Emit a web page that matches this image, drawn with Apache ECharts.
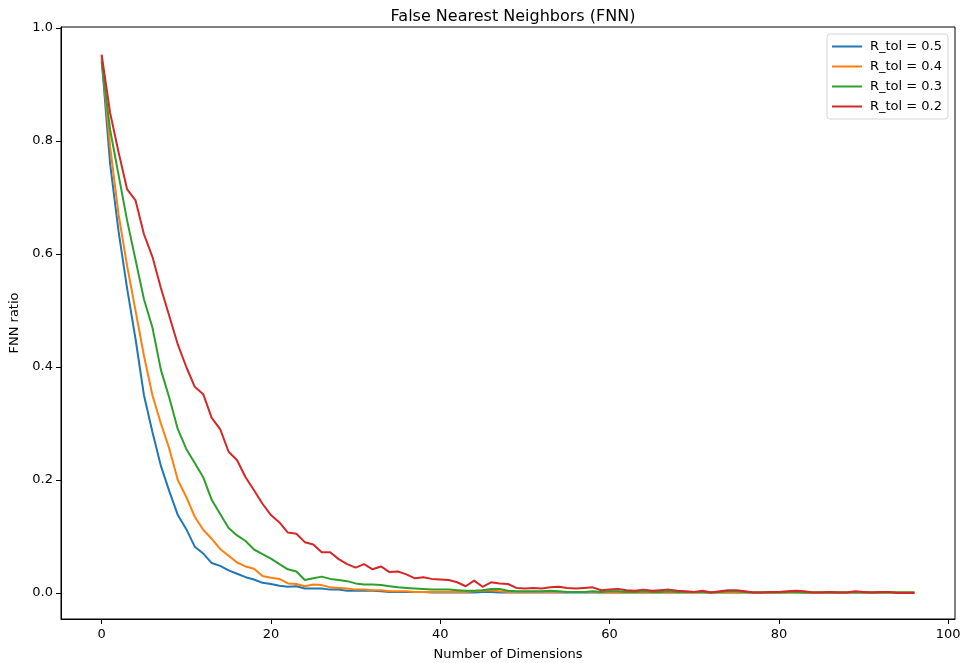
<!DOCTYPE html>
<html>
<head>
<meta charset="utf-8">
<script src="https://cdn.jsdelivr.net/npm/echarts@6/dist/echarts.min.js"></script>
<style>html,body{margin:0;padding:0;background:#fff;}#c{width:960px;height:663px;}</style>
</head>
<body>
<div id="c"></div>
<script>
const dims = Array.from({length: 97}, (_, i) => i);
const xTicks = [0, 20, 40, 60, 80, 100];
const yTicks = [0, 0.2, 0.4, 0.6, 0.8, 1.0];
const seriesNames = ['R_tol = 0.5', 'R_tol = 0.4', 'R_tol = 0.3', 'R_tol = 0.2'];

const tol05 = [0.945,0.76,0.64,0.54,0.45,0.35,0.285,0.225,0.18,0.138,
  0.113,0.082,0.07,0.053,0.048,0.04,0.034,0.028,0.024,0.018,
  0.016,0.013,0.011,0.012,0.008,0.008,0.008,0.006,0.006,0.004,
  0.004,0.004,0.004,0.003,0.002,0.002,0.002,0.002,0.002,0.001,
  0.001,0.001,0.001,0.001,0.001,0.002,0.002,0.001,0.001,0.001,
  0.001,0.001,0.001,0.001,0.001,0.001,0.001,0.001,0.001,0.001,
  0.001,0.001,0.001,0.001,0.001,0.001,0.001,0.001,0.001,0.001,
  0.001,0.001,0.001,0.001,0.001,0.001,0.001,0.001,0.001,0.001,
  0.001,0.001,0.001,0.001,0.001,0.001,0.001,0.001,0.001,0.001,
  0.001,0.001,0.001,0.001,0.001,0.001,0.001];
const tol04 = [0.95,0.79,0.67,0.58,0.5,0.42,0.35,0.30,0.255,0.2,
  0.17,0.135,0.112,0.096,0.078,0.066,0.054,0.047,0.043,0.03,
  0.027,0.025,0.017,0.016,0.012,0.015,0.014,0.01,0.009,0.008,
  0.006,0.006,0.005,0.005,0.003,0.003,0.003,0.002,0.002,0.002,
  0.002,0.002,0.002,0.002,0.003,0.004,0.005,0.003,0.002,0.002,
  0.002,0.002,0.002,0.002,0.002,0.002,0.002,0.002,0.002,0.001,
  0.001,0.001,0.001,0.001,0.001,0.001,0.001,0.001,0.001,0.001,
  0.001,0.001,0.001,0.001,0.001,0.001,0.001,0.001,0.001,0.001,
  0.001,0.001,0.001,0.001,0.001,0.001,0.001,0.001,0.001,0.001,
  0.001,0.001,0.001,0.001,0.001,0.001,0.001];
const tol03 = [0.94,0.82,0.74,0.66,0.59,0.52,0.47,0.395,0.345,0.29,
  0.255,0.23,0.205,0.165,0.14,0.115,0.102,0.092,0.077,0.069,
  0.061,0.051,0.042,0.038,0.023,0.026,0.029,0.025,0.023,0.021,
  0.017,0.015,0.015,0.014,0.012,0.01,0.009,0.008,0.007,0.006,
  0.006,0.006,0.005,0.004,0.004,0.005,0.007,0.007,0.004,0.003,
  0.003,0.003,0.003,0.004,0.003,0.002,0.002,0.002,0.003,0.002,
  0.003,0.003,0.002,0.002,0.003,0.002,0.002,0.003,0.002,0.002,
  0.002,0.002,0.001,0.002,0.003,0.003,0.002,0.001,0.001,0.001,
  0.001,0.002,0.002,0.001,0.001,0.001,0.001,0.001,0.001,0.002,
  0.001,0.001,0.001,0.001,0.001,0.001,0.001];
const tol02 = [0.953,0.85,0.78,0.715,0.695,0.635,0.595,0.54,0.49,0.44,
  0.40,0.365,0.352,0.31,0.29,0.25,0.235,0.205,0.182,0.158,
  0.138,0.125,0.107,0.105,0.09,0.086,0.072,0.072,0.06,0.051,
  0.045,0.051,0.042,0.047,0.037,0.038,0.033,0.026,0.028,0.025,
  0.024,0.023,0.019,0.012,0.022,0.011,0.019,0.017,0.016,0.009,
  0.008,0.009,0.008,0.01,0.011,0.009,0.008,0.009,0.01,0.005,
  0.006,0.007,0.005,0.004,0.006,0.004,0.005,0.006,0.004,0.003,
  0.002,0.004,0.001,0.003,0.005,0.005,0.003,0.001,0.001,0.002,
  0.002,0.003,0.004,0.003,0.001,0.001,0.002,0.001,0.001,0.003,
  0.002,0.001,0.002,0.002,0.0,0.0,0.0];

const colors = ['#1f77b4', '#ff7f0e', '#2ca02c', '#d62728'];
const allData = [tol05, tol04, tol03, tol02];
const font = 'DejaVu Sans';

const chart = echarts.init(document.getElementById('c'), null, {renderer: 'canvas'});
chart.setOption({
  animation: false,
  backgroundColor: '#fff',
  title: {
    text: 'False Nearest Neighbors (FNN)',
    left: 508, top: 4, textAlign: 'center',
    textStyle: {fontFamily: font, fontSize: 16, fontWeight: 'normal', color: '#000'}
  },
  grid: {left: 61, right: 5, top: 27, bottom: 44, outerBoundsMode: 'none', containLabel: false,
    show: true, borderColor: '#000', borderWidth: 1, backgroundColor: 'transparent'},
  legend: {
    orient: 'vertical', right: 12, top: 34,
    data: seriesNames,
    icon: 'rect', itemWidth: 30, itemHeight: 2, itemGap: 7,
    padding: [6, 6, 6, 5],
    borderColor: '#d5d5d5', borderWidth: 1, borderRadius: 3,
    backgroundColor: 'rgba(255,255,255,0.8)',
    textStyle: {fontFamily: font, fontSize: 13, color: '#000', padding: [0, 0, 0, 3]}
  },
  xAxis: {
    type: 'value', min: -4.8, max: 100.8,
    name: 'Number of Dimensions', nameLocation: 'middle', nameGap: 29,
    nameTextStyle: {fontFamily: font, fontSize: 13, color: '#000'},
    axisLine: {show: true, onZero: false, lineStyle: {color: '#000', width: 1}},
    axisTick: {show: true, length: 5, lineStyle: {color: '#000'}, customValues: xTicks},
    axisLabel: {fontFamily: font, fontSize: 13, color: '#000', margin: 9, customValues: xTicks},
    splitLine: {show: false}
  },
  yAxis: {
    type: 'value', min: -0.046, max: 1.0018,
    name: 'FNN ratio', nameLocation: 'middle', nameGap: 38, nameRotate: 90,
    nameTextStyle: {fontFamily: font, fontSize: 13, color: '#000'},
    axisLine: {show: true, onZero: false, lineStyle: {color: '#000', width: 1}},
    axisTick: {show: true, length: 5, lineStyle: {color: '#000'}, customValues: yTicks},
    axisLabel: {fontFamily: font, fontSize: 13, color: '#000', margin: 8, customValues: yTicks,
      formatter: v => v.toFixed(1)},
    splitLine: {show: false}
  },
  series: seriesNames.map((n, k) => ({
    name: n, type: 'line', showSymbol: false, symbol: 'none',
    data: dims.map((d, i) => [d, allData[k][i]]),
    lineStyle: {color: colors[k], width: 2},
    itemStyle: {color: colors[k]},
    z: 2 + k
  }))
});
</script>
</body>
</html>
